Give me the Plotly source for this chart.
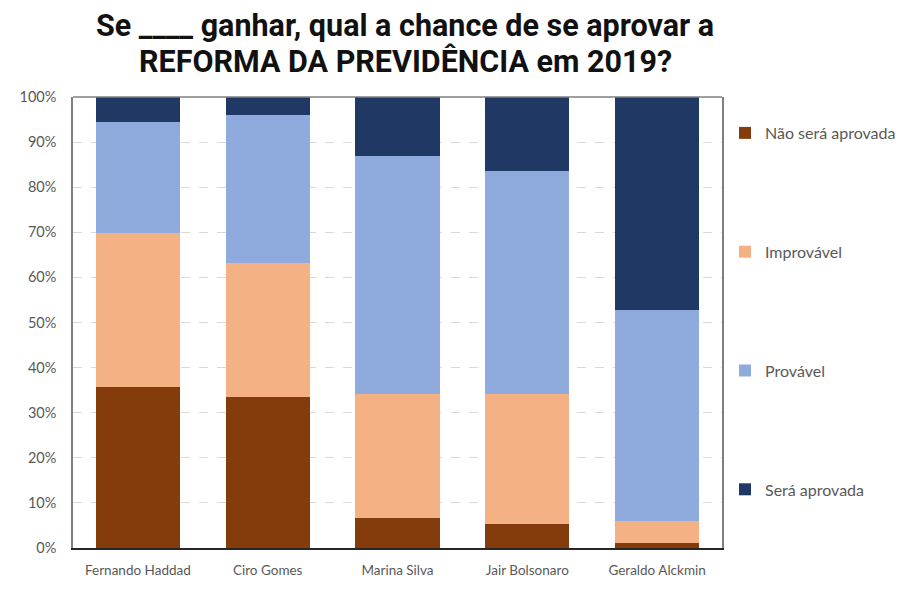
import plotly.graph_objects as go

categories = ["Fernando Haddad", "Ciro Gomes", "Marina Silva", "Jair Bolsonaro", "Geraldo Alckmin"]
nao_sera = [35.6, 33.4, 6.7, 5.3, 1.2]
improvavel = [34.2, 29.8, 27.5, 28.9, 4.8]
provavel = [24.6, 32.8, 52.7, 49.4, 46.7]
sera = [5.6, 4.0, 13.1, 16.4, 47.3]
series_names = ["Não será aprovada", "Improvável", "Provável", "Será aprovada"]
colors = ["#843C0C", "#F4B183", "#8FAADC", "#203864"]
tick_vals = [0, 10, 20, 30, 40, 50, 60, 70, 80, 90, 100]
tick_text = [f"{v}%" for v in tick_vals]
title_lines = ["Se ____ ganhar, qual a chance de se aprovar a", "REFORMA DA PREVIDÊNCIA em 2019?"]

fig = go.Figure()
for i, (name, vals) in enumerate(zip(series_names, [nao_sera, improvavel, provavel, sera])):
    fig.add_trace(go.Bar(
        x=categories, y=vals, name=name, marker_color=colors[i],
        marker_line_width=0, legendgroup=f"g{i}",
    ))

FONT = "Lato, sans-serif"
W, H = 898, 583
fig.update_layout(
    barmode="stack",
    bargap=0.35,
    width=W, height=H,
    margin=dict(l=65, r=184, t=89, b=43, autoexpand=False),
    plot_bgcolor="white", paper_bgcolor="white",
    legend=dict(
        xref="container", yref="container",
        x=717/W, y=1 - 108/H, xanchor="left", yanchor="top",
        traceorder="grouped", tracegroupgap=95,
        font=dict(family=FONT, size=16, color="#595959"),
        itemwidth=30, maxheight=560,
    ),
    showlegend=True,
)
for line, yp in zip(title_lines, [(540 - 18) / 451, (540 - 53) / 451]):
    fig.add_annotation(
        text=line, xref="paper", yref="paper", x=0.5116, y=yp,
        xanchor="center", yanchor="middle", showarrow=False,
        font=dict(family="Roboto, sans-serif", size=30.5, color="#111111", weight="bold"),
    )
fig.update_xaxes(
    showline=True, linecolor="#262626", linewidth=1.5,
    tickfont=dict(family=FONT, size=13.5, color="#595959"),
    ticks="", showgrid=False, ticklabelstandoff=9,
)
fig.update_yaxes(
    range=[0, 100], tickvals=tick_vals, ticktext=tick_text,
    showline=True, linecolor="#7F7F7F", linewidth=1.5, mirror=True,
    showgrid=True, gridcolor="#D9D9D9", griddash="dash", gridwidth=1,
    tickfont=dict(family=FONT, size=14.5, color="#595959"),
    ticks="", zeroline=False, ticklabelstandoff=12,
)
fig.add_shape(type="line", xref="paper", yref="paper", x0=0, x1=1, y0=1, y1=1,
              line=dict(color="#7F7F7F", width=1.5))
fig.write_html("out.html")
